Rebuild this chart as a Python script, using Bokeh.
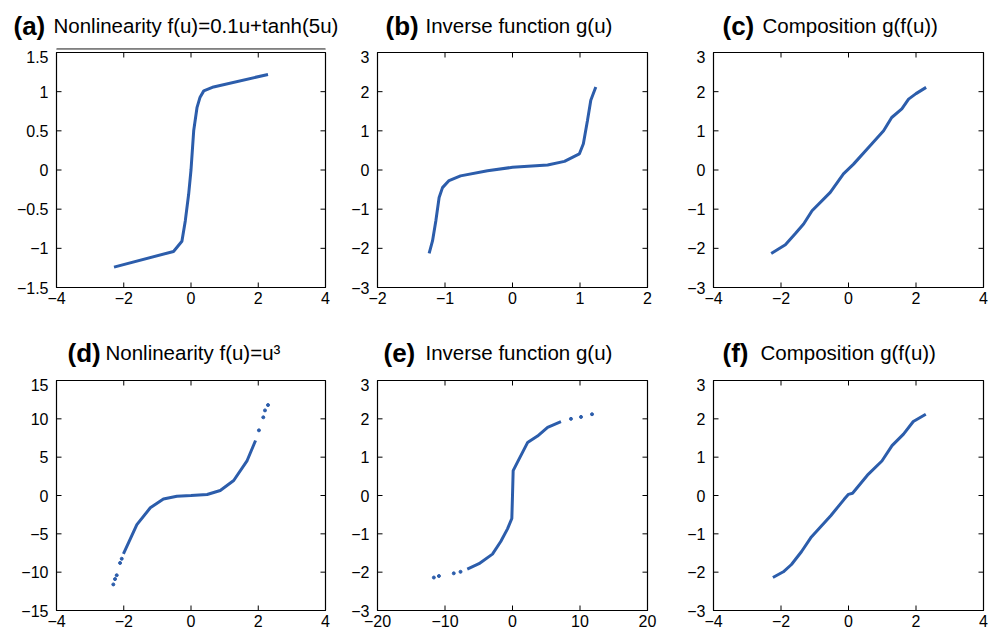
import math
from bokeh.plotting import figure
from bokeh.layouts import column, row
from bokeh.models import Range1d, FixedTicker, CustomJSTickFormatter
from bokeh.core.properties import value
from bokeh.embed import file_html
from bokeh.resources import INLINE

# ---------------- data ----------------
# (a) nonlinearity f(u) = 0.1u + tanh(5u)
a_u = [-2.29, -0.52, -0.27, -0.17, -0.07, 0.0, 0.08, 0.18, 0.27, 0.38, 0.67, 2.29]
a_f = [-1.24, -1.04, -0.91, -0.65, -0.31, 0.0, 0.50, 0.80, 0.93, 1.01, 1.06, 1.22]
# (b) inverse function g(u)
b_u = [-1.235, -1.185, -1.136, -1.087, -1.037, -0.94, -0.77, -0.37, 0.0, 0.52, 0.77, 0.99, 1.05, 1.11, 1.16, 1.234]
b_g = [-2.13, -1.81, -1.30, -0.70, -0.45, -0.27, -0.15, -0.02, 0.07, 0.13, 0.22, 0.41, 0.67, 1.26, 1.78, 2.12]
# (c) composition g(f(u))
c_u = [-2.29, -1.87, -1.58, -1.33, -1.08, -0.54, -0.15, 0.15, 0.64, 1.04, 1.28, 1.58, 1.78, 2.0, 2.30]
c_g = [-2.13, -1.91, -1.63, -1.38, -1.04, -0.57, -0.10, 0.15, 0.62, 1.00, 1.34, 1.56, 1.81, 1.95, 2.11]
# (d) nonlinearity f(u) = u^3 : dense part and sparse tail samples
d_u = [-2.01, -1.61, -1.21, -0.82, -0.42, 0.0, 0.48, 0.87, 1.27, 1.67, 1.92]
d_f = [-7.6, -3.8, -1.6, -0.45, -0.09, 0.0, 0.13, 0.65, 1.96, 4.56, 7.17]
d_tail_u = [-2.31, -2.26, -2.21, -2.11, -2.06, 2.02, 2.15, 2.20, 2.29]
d_tail_f = [-11.6, -10.9, -10.4, -8.8, -8.25, 8.5, 10.2, 11.1, 11.8]
# (e) inverse function g(u)
e_u = [-6.7, -4.96, -2.97, -1.74, -0.74, -0.10, 0.0, 0.10, 0.74, 2.23, 3.71, 5.2, 7.18]
e_g = [-1.92, -1.78, -1.53, -1.20, -0.87, -0.60, 0.0, 0.65, 0.87, 1.38, 1.55, 1.78, 1.93]
e_tail_u = [-11.65, -10.9, -8.7, -7.7, 8.66, 10.15, 11.78]
e_tail_g = [-2.14, -2.10, -2.03, -1.99, 2.00, 2.05, 2.12]
# (f) composition g(f(u))
f_u = [-2.24, -1.93, -1.69, -1.39, -1.10, -0.52, -0.13, 0.0, 0.12, 0.56, 0.99, 1.29, 1.63, 1.92, 2.29]
f_g = [-2.14, -1.99, -1.80, -1.46, -1.08, -0.52, -0.10, 0.03, 0.06, 0.53, 0.90, 1.30, 1.60, 1.93, 2.12]

# tick values
ticks_x4 = [-4, -2, 0, 2, 4]
ticks_x2 = [-2, -1, 0, 1, 2]
ticks_x20 = [-20, -10, 0, 10, 20]
ticks_y15a = [-1.5, -1, -0.5, 0, 0.5, 1, 1.5]
ticks_y3 = [-3, -2, -1, 0, 1, 2, 3]
ticks_y15 = [-15, -10, -5, 0, 5, 10, 15]

labels_top = ["(a)", "(b)", "(c)"]
titles_top = ["Nonlinearity f(u)=0.1u+tanh(5u)", "Inverse function g(u)", "Composition g(f(u))"]
labels_bot = ["(d)", "(e)", "(f)"]
titles_bot = ["Nonlinearity f(u)=u\u00b3", "Inverse function g(u)", "Composition g(f(u))"]

FONT = "Liberation Sans"
BLUE = "#2c5dab"
TOTAL_W = 991

fmt_code = """
if (tick < 0) { return "\u2212" + String(Math.abs(tick)); }
return String(tick);
"""


def make(width, height, left, right, top, bottom, xr, yr, xt, yt):
    p = figure(width=width, height=height, x_range=Range1d(*xr), y_range=Range1d(*yr),
               output_backend="svg", toolbar_location=None,
               min_border_left=left, min_border_right=right,
               min_border_top=top, min_border_bottom=bottom)
    p.xgrid.visible = False
    p.ygrid.visible = False
    p.outline_line_color = "black"
    p.outline_line_alpha = 1
    p.outline_line_width = 1.2
    for ax, ticks, standoff in ((p.xaxis[0], xt, 4), (p.yaxis[0], yt, 8)):
        ax.ticker = FixedTicker(ticks=ticks)
        ax.major_tick_in = 0
        ax.major_tick_out = 0
        ax.minor_tick_line_color = None
        ax.axis_line_color = "black"
        ax.major_label_text_font = FONT
        ax.major_label_text_color = "black"
        ax.major_label_text_font_size = "16px"
        ax.major_label_standoff = standoff
        ax.formatter = CustomJSTickFormatter(code=fmt_code)
    # inward ticks on all four sides (half of each dash is clipped by the frame)
    nx, ny = len(xt), len(yt)
    p.scatter(xt, [yr[0]] * nx, marker="dash", angle=math.pi / 2, size=10,
              line_color="black", line_width=1)
    p.scatter(xt, [yr[1]] * nx, marker="dash", angle=math.pi / 2, size=10,
              line_color="black", line_width=1)
    p.scatter([xr[0]] * ny, yt, marker="dash", size=10, line_color="black", line_width=1)
    p.scatter([xr[1]] * ny, yt, marker="dash", size=10, line_color="black", line_width=1)
    return p


def title_strip(height, labs, tits, lab_x, tit_x, base):
    t = figure(width=TOTAL_W, height=height, x_range=Range1d(0, TOTAL_W), y_range=Range1d(0, height),
               output_backend="svg", toolbar_location=None, x_axis_type=None, y_axis_type=None,
               min_border=0)
    t.xgrid.visible = False
    t.ygrid.visible = False
    t.outline_line_color = None
    t.text(x=lab_x, y=[base] * len(labs), text=labs, text_font=value(FONT), text_font_style="bold",
           text_font_size="26px", text_baseline="alphabetic", text_color="black")
    t.text(x=tit_x, y=[base] * len(tits), text=tits, text_font=value(FONT),
           text_font_size="20.5px", text_baseline="alphabetic", text_color="black")
    return t


W1, W2, W3 = 345, 335, 311
H1, H2 = 270, 254
T1, T2 = 50, 58

strip1 = title_strip(T1, labels_top, titles_top, [13, 385, 722], [53, 425, 762], 25)
# the doubled top border seen above panel (a)
strip1.line([56, 325], [1.5, 1.5], line_color="black", line_width=1)
strip1.line([56, 325], [0.3, 0.3], line_color="#b0b0b0", line_width=1.6)
strip2 = title_strip(T2, labels_bot, titles_bot, [67, 383, 722], [105, 425, 760], 26)

pa = make(W1, H1, 56, 20, 2, 33, (-4, 4), (-1.5, 1.5), ticks_x4, ticks_y15a)
pa.line(a_u, a_f, line_width=3, color=BLUE)

pb = make(W2, H1, 32, 33, 2, 33, (-2, 2), (-3, 3), ticks_x2, ticks_y3)
pb.line(b_u, b_g, line_width=3, color=BLUE)

pc = make(W3, H1, 33, 8, 2, 33, (-4, 4), (-3, 3), ticks_x4, ticks_y3)
pc.line(c_u, c_g, line_width=3, color=BLUE)

pd = make(W1, H2, 56, 20, 2, 22, (-4, 4), (-15, 15), ticks_x4, ticks_y15)
pd.line(d_u, d_f, line_width=3, color=BLUE)
pd.scatter(d_tail_u, d_tail_f, size=3, color=BLUE)

pe = make(W2, H2, 32, 33, 2, 22, (-20, 20), (-3, 3), ticks_x20, ticks_y3)
pe.line(e_u, e_g, line_width=3, color=BLUE)
pe.scatter(e_tail_u, e_tail_g, size=3, color=BLUE)

pf = make(W3, H2, 33, 8, 2, 22, (-4, 4), (-3, 3), ticks_x4, ticks_y3)
pf.line(f_u, f_g, line_width=3, color=BLUE)

layout = column(strip1, row(pa, pb, pc), strip2, row(pd, pe, pf))

open("out.html", "w").write(file_html(layout, INLINE))
